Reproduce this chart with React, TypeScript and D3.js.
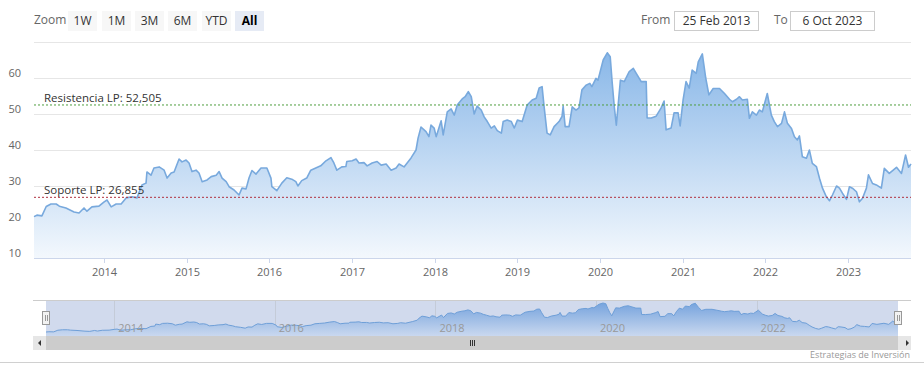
import React from "react";
import * as d3 from "d3";

const dates = [
  "2013-02-25","2013-03-10","2013-04-01","2013-04-20","2013-05-11","2013-06-03","2013-06-17","2013-07-16","2013-08-21","2013-09-12",
  "2013-10-04","2013-10-17","2013-11-08","2013-12-09","2014-01-01","2014-01-14","2014-02-01","2014-02-23","2014-03-17","2014-04-08",
  "2014-05-04","2014-05-26","2014-06-17","2014-07-05","2014-07-09","2014-07-27","2014-08-09","2014-09-01","2014-09-23","2014-10-06",
  "2014-10-24","2014-11-06","2014-11-28","2014-12-11","2014-12-29","2015-01-11","2015-01-24","2015-02-11","2015-02-24","2015-03-10",
  "2015-04-01","2015-04-19","2015-05-11","2015-05-24","2015-06-06","2015-06-24","2015-07-07","2015-07-29","2015-08-20","2015-09-02",
  "2015-09-20","2015-10-03","2015-10-16","2015-11-03","2015-11-25","2015-12-21","2016-01-08","2016-01-12","2016-02-03","2016-02-25",
  "2016-03-18","2016-04-09","2016-04-27","2016-05-06","2016-05-23","2016-06-14","2016-07-02","2016-07-24","2016-08-15","2016-09-07",
  "2016-09-29","2016-10-12","2016-10-25","2016-11-16","2016-12-04","2016-12-08","2017-01-01","2017-01-18","2017-01-31","2017-02-22",
  "2017-03-08","2017-03-30","2017-04-21","2017-05-09","2017-05-31","2017-06-22","2017-07-14","2017-07-27","2017-08-18","2017-09-18",
  "2017-10-10","2017-10-19","2017-11-01","2017-11-23","2017-12-06","2017-12-15","2017-12-29","2018-01-07","2018-01-29","2018-02-07",
  "2018-02-25","2018-03-14","2018-03-28","2018-04-10","2018-05-02","2018-05-15","2018-05-29","2018-06-11","2018-06-24","2018-07-07",
  "2018-07-25","2018-08-07","2018-08-21","2018-09-07","2018-09-21","2018-10-04","2018-10-22","2018-10-30","2018-11-17","2018-12-05",
  "2018-12-18","2019-01-01","2019-01-22","2019-02-13","2019-03-07","2019-03-25","2019-04-07","2019-04-20","2019-04-29","2019-05-12",
  "2019-05-26","2019-06-12","2019-07-04","2019-07-17","2019-07-22","2019-07-31","2019-08-17","2019-08-31","2019-09-17","2019-09-30",
  "2019-10-13","2019-10-31","2019-11-17","2019-11-26","2019-12-14","2019-12-23","2020-01-15","2020-02-02","2020-02-15","2020-02-24",
  "2020-03-04","2020-03-13","2020-03-31","2020-04-17","2020-05-09","2020-05-27","2020-06-09","2020-07-01","2020-07-23","2020-07-27",
  "2020-08-14","2020-09-05","2020-09-27","2020-10-10","2020-10-19","2020-11-10","2020-11-23","2020-12-11","2020-12-20","2021-01-02",
  "2021-01-15","2021-01-29","2021-02-11","2021-03-01","2021-03-10","2021-03-28","2021-04-12","2021-04-26","2021-05-15","2021-06-12",
  "2021-07-04","2021-07-26","2021-08-08","2021-08-26","2021-09-08","2021-09-21","2021-10-13","2021-10-22","2021-11-04","2021-11-22",
  "2021-12-05","2021-12-18","2022-01-09","2022-01-27","2022-02-09","2022-02-23","2022-03-13","2022-03-26","2022-04-08","2022-04-26",
  "2022-05-09","2022-05-22","2022-05-31","2022-06-13","2022-07-01","2022-07-14","2022-07-27","2022-08-14","2022-08-28","2022-09-10",
  "2022-09-27","2022-10-11","2022-10-24","2022-11-11","2022-11-24","2022-12-07","2022-12-25","2023-01-07","2023-01-20","2023-02-07",
  "2023-02-20","2023-03-06","2023-03-23","2023-04-01","2023-04-19","2023-05-06","2023-05-28","2023-06-10","2023-07-02","2023-08-03",
  "2023-08-25","2023-09-12","2023-09-25","2023-10-06",
];

const prices = [
  21.5,21.9,21.7,24.3,25.0,25.0,24.4,23.9,22.8,22.5,
  23.9,23.0,24.2,24.4,25.6,26.1,24.2,25.0,25.0,26.7,
  27.0,26.7,30.3,30.8,33.9,33.0,35.0,35.3,34.4,32.2,
  33.6,33.9,37.5,36.7,37.2,36.4,34.0,34.4,33.6,31.2,
  31.7,32.6,33.0,34.0,32.2,31.2,29.8,28.9,27.5,29.4,
  29.2,32.2,34.3,33.3,35.0,35.0,32.2,29.8,28.7,30.8,
  32.3,31.9,31.2,30.0,31.5,32.2,34.4,35.0,35.6,37.0,
  37.9,36.4,34.4,35.3,35.4,36.8,37.0,37.5,36.4,36.5,
  35.6,36.4,36.8,35.8,36.1,34.4,35.0,36.1,35.3,37.8,
  40.0,43.3,46.4,45.1,43.7,46.9,46.1,43.7,48.1,44.2,
  50.6,51.4,49.7,52.5,54.2,54.8,56.2,54.8,50.0,52.2,
  51.1,49.2,47.9,46.1,46.7,45.4,44.7,47.9,48.3,47.9,
  46.1,48.3,47.9,52.5,53.9,54.4,57.2,57.6,52.0,44.7,
  44.2,46.5,47.9,49.3,52.2,46.5,46.5,52.0,51.1,51.7,
  56.7,58.0,58.5,57.6,59.9,59.4,65.0,67.0,65.9,58.5,
  52.0,46.9,59.4,59.0,61.8,62.7,61.3,59.0,59.0,48.9,
  48.9,49.4,51.7,53.6,45.6,46.1,50.3,50.3,46.7,53.9,
  59.0,57.2,62.2,61.3,64.5,66.7,60.0,55.3,57.1,57.1,
  55.7,54.1,53.4,54.1,54.8,53.9,54.1,48.8,50.6,49.7,
  51.1,50.6,55.7,49.7,47.9,46.5,47.4,50.6,47.4,46.0,
  43.7,42.8,43.9,38.1,37.7,40.0,36.3,35.4,32.1,29.4,
  27.0,25.9,27.5,30.0,29.4,28.0,26.3,29.8,29.4,28.4,
  25.6,26.6,29.4,33.1,30.7,30.3,29.4,34.9,33.5,35.2,
  33.5,38.6,35.2,36.1,
];

const yTicks = [10, 20, 30, 40, 50, 60, 70];
const yearTicks = [2014, 2015, 2016, 2017, 2018, 2019, 2020, 2021, 2022, 2023];
const navYears = [2014, 2016, 2018, 2020, 2022];
const rangeButtons = ["1W", "1M", "3M", "6M", "YTD", "All"];
const plotLinesValues = [52.505, 26.855];
const plotLinesLabels = ["Resistencia LP: 52,505", "Soporte LP: 26,855"];
const fromLabel = "25 Feb 2013";
const toLabel = "6 Oct 2023";

const FONT = "'Open Sans', 'Liberation Sans', sans-serif";

export default function App() {
  const parse = d3.timeParse("%Y-%m-%d");
  const data = dates.map((d, i) => ({ date: parse(d) as Date, value: prices[i] }));

  const left = 34, right = 911, top = 42, bottom = 258;
  const x = d3.scaleTime().domain([data[0].date, data[data.length - 1].date]).range([left, right]);
  const y = d3.scaleLinear().domain([10, 70]).range([bottom, top]);

  const area = d3.area<any>().x((d) => x(d.date)).y0(bottom).y1((d) => y(d.value));
  const line = d3.line<any>().x((d) => x(d.date)).y((d) => y(d.value));

  // navigator
  const navLeft = 46, navRight = 898, navTop = 300, navBottom = 336;
  const nx = d3.scaleTime().domain(x.domain()).range([navLeft, navRight]);
  const [mn, mx] = d3.extent(prices) as [number, number];
  const ny = d3.scaleLinear().domain([mn, mx]).range([332, 303]);
  const narea = d3.area<any>().x((d) => nx(d.date)).y0(navBottom).y1((d) => ny(d.value));
  const nline = d3.line<any>().x((d) => nx(d.date)).y((d) => ny(d.value));

  const btnX = [68, 102, 135, 168, 202, 235];
  const plotColors = ["#4f9e3f", "#b0303f"];

  return (
    <svg width={924} height={376} style={{ position: "absolute", left: 0, top: 0, fontFamily: FONT }}>
      <defs>
        <linearGradient id="mainGrad" gradientUnits="userSpaceOnUse" x1={0} y1={top} x2={0} y2={bottom}>
          <stop offset="0" stopColor="#84b4e7" />
          <stop offset="1" stopColor="#f3f8fd" />
        </linearGradient>
        <linearGradient id="navGrad" gradientUnits="userSpaceOnUse" x1={0} y1={navTop} x2={0} y2={navBottom}>
          <stop offset="0" stopColor="#6f9fdc" />
          <stop offset="1" stopColor="#c9d8ef" />
        </linearGradient>
      </defs>
      <rect x={0} y={0} width={924} height={376} fill="#fff" />

      {/* range selector */}
      <text x={34} y={24} fontSize={12} fill="#666">Zoom</text>
      {rangeButtons.map((b, i) => (
        <g key={b}>
          <rect x={btnX[i]} y={11} width={29} height={20} fill={b === "All" ? "#e6ebf5" : "#f7f7f7"} />
          <text x={btnX[i] + 14.5} y={25} fontSize={12} textAnchor="middle" fill={b === "All" ? "#000" : "#333"}
            fontWeight={b === "All" ? "bold" : "normal"}>{b}</text>
        </g>
      ))}
      <text x={641} y={24} fontSize={12} fill="#666">From</text>
      <rect x={674.5} y={11.5} width={84} height={19} fill="#fff" stroke="#ccc" />
      <text x={716.5} y={25} fontSize={12} textAnchor="middle" fill="#333">{fromLabel}</text>
      <text x={774} y={24} fontSize={12} fill="#666">To</text>
      <rect x={790.5} y={11.5} width={84} height={19} fill="#fff" stroke="#ccc" />
      <text x={832.5} y={25} fontSize={12} textAnchor="middle" fill="#333">{toLabel}</text>

      {/* grid */}
      {yTicks.slice(1).map((t) => (
        <line key={t} x1={left} x2={right} y1={Math.round(y(t)) + 0.5} y2={Math.round(y(t)) + 0.5} stroke="#e6e6e6" />
      ))}
      {yTicks.slice(0, -1).map((t) => (
        <text key={t} x={21} y={y(t) - 1} fontSize={11} textAnchor="end" fill="#666">{t}</text>
      ))}

      {/* series */}
      <path d={area(data) || ""} fill="url(#mainGrad)" />
      <path d={line(data) || ""} fill="none" stroke="#78a9dd" strokeWidth={1.6} strokeLinejoin="round" />

      {/* plot lines */}
      {plotLinesValues.map((v, i) => (
        <g key={i}>
          <line x1={left} x2={right} y1={y(v)} y2={y(v)} stroke={plotColors[i]} strokeWidth={1} strokeDasharray="2,2" />
          <text x={44} y={y(v) - 3} fontSize={11.5} fill="#333">{plotLinesLabels[i]}</text>
        </g>
      ))}

      {/* x axis */}
      <line x1={left} x2={right} y1={bottom + 0.5} y2={bottom + 0.5} stroke="#ccd6eb" />
      {yearTicks.map((yr) => {
        const px = Math.round(x(new Date(yr, 0, 1))) + 0.5;
        return (
          <g key={yr}>
            <line x1={px} x2={px} y1={bottom} y2={bottom + 5} stroke="#ccd6eb" />
            <text x={px} y={276} fontSize={11} textAnchor="middle" fill="#666">{yr}</text>
          </g>
        );
      })}

      {/* navigator */}
      <rect x={navLeft} y={navTop} width={navRight - navLeft} height={navBottom - navTop} fill="rgba(102,133,194,0.3)" />
      {navYears.map((yr) => {
        const px = Math.round(nx(new Date(yr, 0, 1))) + 0.5;
        return <line key={"g" + yr} x1={px} x2={px} y1={navTop} y2={navBottom} stroke="#c4cbd8" />;
      })}
      <path d={narea(data) || ""} fill="url(#navGrad)" />
      <path d={nline(data) || ""} fill="none" stroke="#6e9fd8" strokeWidth={1} />
      {navYears.map((yr) => {
        const px = nx(new Date(yr, 0, 1));
        return <text key={"t" + yr} x={px + 4} y={332} fontSize={11} fill="#999">{yr}</text>;
      })}
      <line x1={33} x2={911} y1={300.5} y2={300.5} stroke="#cccccc" />
      {[navLeft, navRight].map((hx, i) => (
        <g key={"h" + i}>
          <rect x={hx - 3.5} y={311.5} width={7} height={13} fill="#f2f2f2" stroke="#999" />
          <line x1={hx - 0.5} x2={hx - 0.5} y1={315} y2={321} stroke="#999" />
          <line x1={hx + 1.5} x2={hx + 1.5} y1={315} y2={321} stroke="#999" />
        </g>
      ))}

      {/* scrollbar */}
      <rect x={33} y={336} width={878} height={14} fill="#f2f2f2" />
      <rect x={46} y={336} width={852} height={14} fill="#cccccc" />
      <rect x={33} y={336} width={13} height={14} fill="#e6e6e6" />
      <rect x={898} y={336} width={13} height={14} fill="#e6e6e6" />
      <path d="M41,340 L38,343 L41,346 Z" fill="#333" />
      <path d="M906,340 L909,343 L906,346 Z" fill="#333" />
      {[-2, 0, 2].map((o) => (
        <line key={o} x1={472 + o + 0.5} x2={472 + o + 0.5} y1={340} y2={346} stroke="#333" />
      ))}

      {/* footer */}
      <line x1={0} x2={924} y1={362.5} y2={362.5} stroke="#d0d0d0" />
      <text x={910} y={358} fontSize={9} textAnchor="end" fill="#999">Estrategias de Inversión</text>
    </svg>
  );
}
